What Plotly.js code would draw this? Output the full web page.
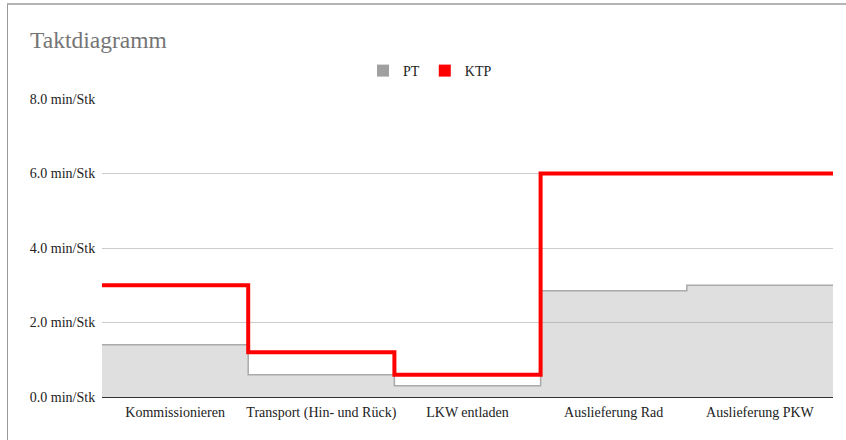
<!DOCTYPE html>
<html>
<head>
<meta charset="utf-8">
<script src="https://cdn.plot.ly/plotly-3.0.1.min.js"></script>
<style>
  html, body { margin: 0; padding: 0; background: #fff; }
  #wrap { position: relative; width: 846px; height: 440px; overflow: hidden; }
  #frame { position: absolute; left: 7px; top: 3px; width: 845px; height: 440px;
           border-left: 1px solid #9a9a9a; border-top: 2px solid #b5b5b5; box-sizing: border-box; pointer-events: none; }
  #chart { width: 846px; height: 440px; }
</style>
</head>
<body>
<div id="wrap">
  <div id="chart"></div>
  <div id="frame"></div>
</div>
<script>
const categories = ["Kommissionieren", "Transport (Hin- und Rück)", "LKW entladen", "Auslieferung Rad", "Auslieferung PKW"];
const ptValues  = [1.4, 0.6, 0.3, 2.85, 3.0];
const ktpValues = [3.0, 1.2, 0.6, 6.0, 6.0];
const yTicks = [0, 2, 4, 6, 8];
const yUnit = " min/Stk";

// stepped x positions: each category occupies [i, i+1]
function stepX(n) { const xs = []; for (let i = 0; i <= n; i++) xs.push(i); return xs; }
function stepY(vals) { return vals.concat([vals[vals.length - 1]]); }
const xs = stepX(categories.length);
const tickPos = categories.map((c, i) => i + 0.5);

const font = "'Liberation Serif', 'Times New Roman', serif";

const traces = [
  {
    x: xs, y: stepY(ptValues), type: "scatter", mode: "lines",
    line: { shape: "hv", color: "#aaaaaa", width: 1.5 },
    fill: "tozeroy", fillcolor: "rgba(150,150,150,0.3)",
    name: "PT", showlegend: false, hoverinfo: "skip"
  },
  {
    x: xs, y: stepY(ktpValues), type: "scatter", mode: "lines",
    line: { shape: "hv", color: "#ff0000", width: 4 },
    name: "KTP", showlegend: false, hoverinfo: "skip"
  },
  { x: [null], y: [null], type: "scatter", mode: "markers", name: "PT",
    marker: { symbol: "square", size: 12, color: "#a0a0a0" } },
  { x: [null], y: [null], type: "scatter", mode: "markers", name: "KTP",
    marker: { symbol: "square", size: 12, color: "#ff0000" } }
];

const layout = {
  width: 846, height: 440,
  margin: { l: 102, r: 13, t: 99, b: 43 },
  paper_bgcolor: "#ffffff", plot_bgcolor: "#ffffff",
  font: { family: font, size: 14, color: "#222222" },
  title: {
    text: "Taktdiagramm", x: 30 / 846, xanchor: "left", xref: "container",
    y: 1 - 40 / 440, yanchor: "middle", yref: "container",
    font: { family: font, size: 23.5, color: "#757575" }
  },
  showlegend: true,
  legend: {
    orientation: "h", x: (363 - 102) / 731, xanchor: "left", y: 1 + 28 / 298, yanchor: "middle",
    font: { family: font, size: 14, color: "#222222" },
    itemwidth: 30, bgcolor: "rgba(0,0,0,0)"
  },
  xaxis: {
    range: [0, categories.length], tickvals: tickPos, ticktext: categories,
    showgrid: false, zeroline: false, showline: false,
    ticks: "outside", ticklen: 2, tickcolor: "rgba(0,0,0,0)",
    tickfont: { family: font, size: 14, color: "#222222" }, fixedrange: true
  },
  yaxis: {
    range: [0, 8], tickvals: yTicks, ticktext: yTicks.map(v => v.toFixed(1) + yUnit),
    showgrid: true, gridcolor: "#cccccc", gridwidth: 1,
    zeroline: true, zerolinecolor: "#333333", zerolinewidth: 1,
    showline: false, ticks: "outside", ticklen: 3, tickcolor: "rgba(0,0,0,0)",
    tickfont: { family: font, size: 14, color: "#222222" }, fixedrange: true
  }
};

Plotly.newPlot("chart", traces, layout, { displayModeBar: false, staticPlot: true });
</script>
</body>
</html>
